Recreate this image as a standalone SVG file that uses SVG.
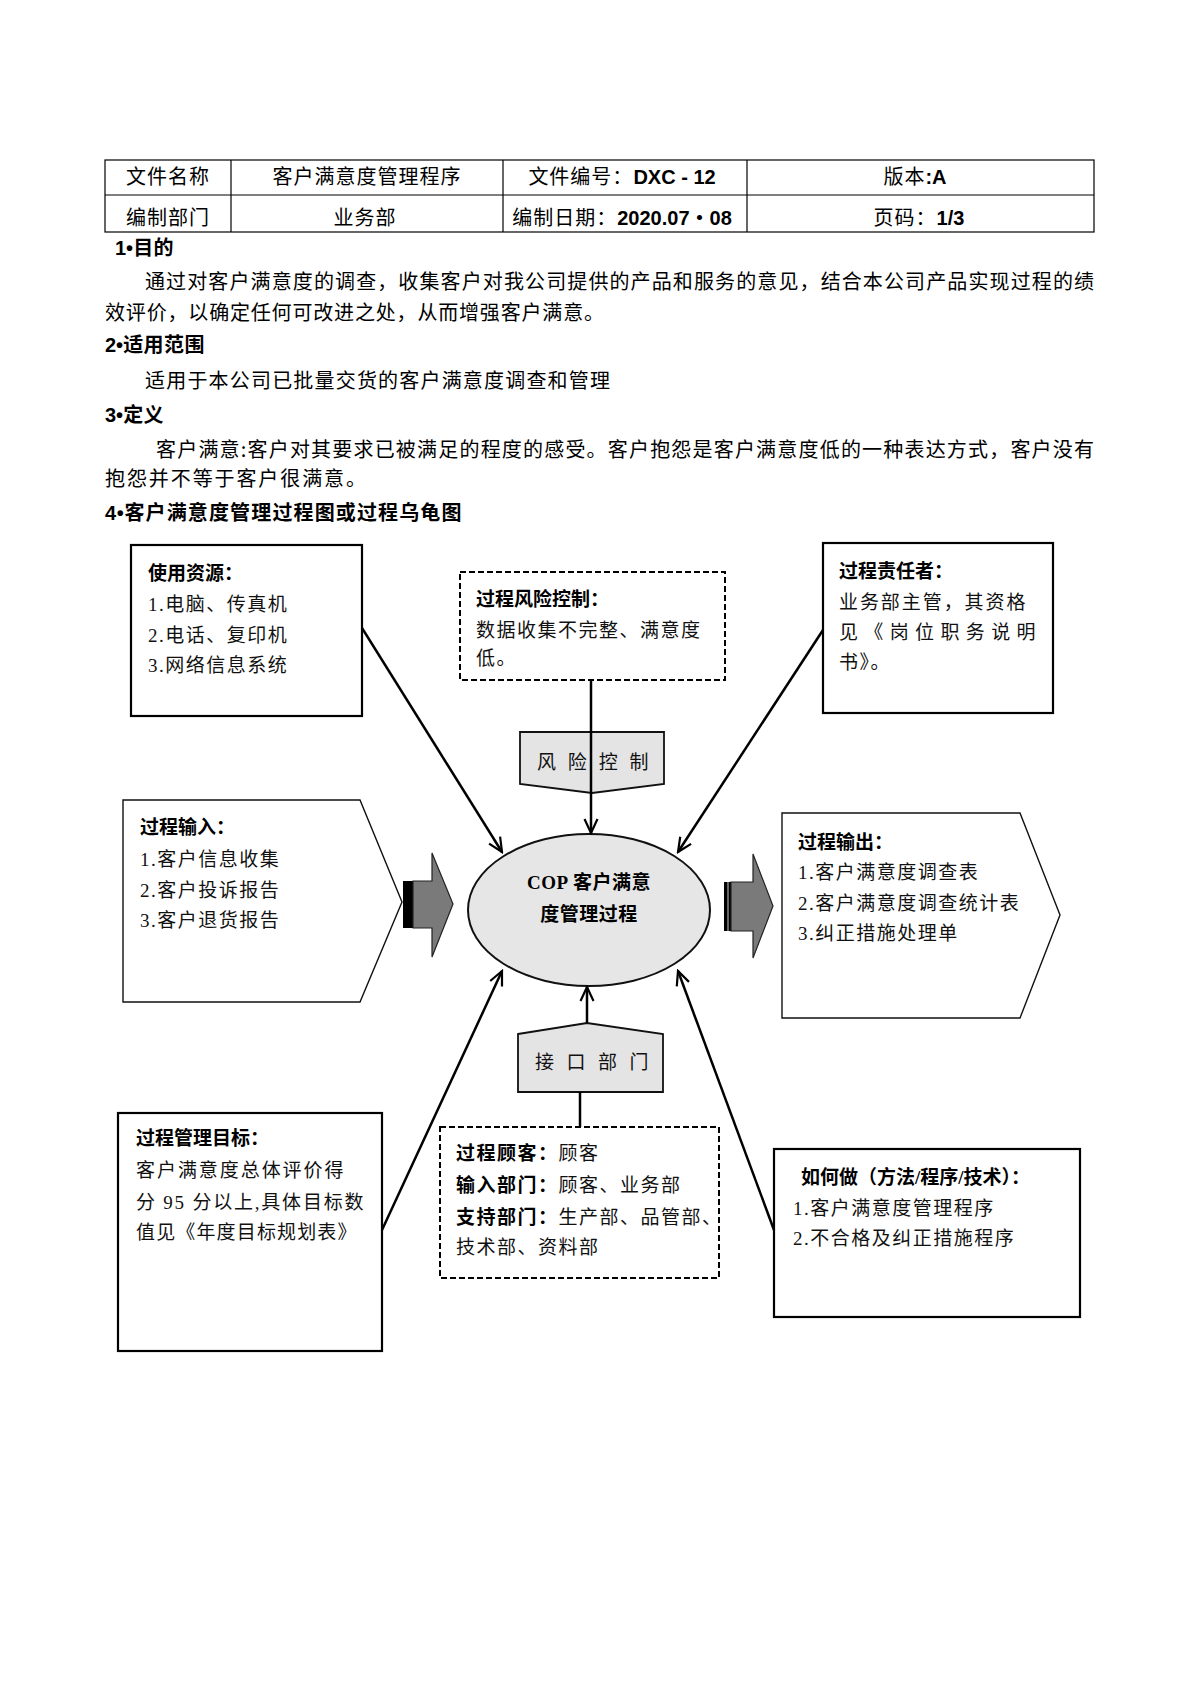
<svg xmlns="http://www.w3.org/2000/svg" width="1190" height="1683" viewBox="0 0 1190 1683">
<defs>
<style>
.h{font-family:"Noto Sans CJK SC","Liberation Sans",sans-serif;font-size:20px;letter-spacing:1px;fill:#000}
.num{font-family:"Liberation Sans","Noto Sans CJK SC",sans-serif;font-weight:bold;letter-spacing:0}
.sec{font-family:"Noto Sans CJK SC","Liberation Sans",sans-serif;font-size:20px;font-weight:bold;letter-spacing:0.5px;fill:#000}
.bul{font-family:"Liberation Sans",sans-serif;font-weight:bold;letter-spacing:0}
.body{font-family:"Noto Sans CJK SC","Liberation Sans",sans-serif;font-size:20px;letter-spacing:1px;fill:#000}
.d{font-family:"Liberation Serif","Noto Sans CJK SC",serif;font-size:19px;letter-spacing:1.5px;fill:#111}
.db{font-family:"Liberation Serif","Noto Sans CJK SC",serif;font-size:19px;font-weight:bold;fill:#000}
.box{fill:#fff;stroke:#000;stroke-width:2.2}
.dash{fill:#fff;stroke:#000;stroke-width:2;stroke-dasharray:6 3}
.pent{fill:#fff;stroke:#111;stroke-width:1.4}
.tag{fill:#e4e4e4;stroke:#111;stroke-width:1.8}
.conn{stroke:#000;stroke-width:2.5;fill:none}
.grid{stroke:#000;stroke-width:1.2;fill:none}
</style>
<marker id="ah" markerWidth="18" markerHeight="16" refX="16" refY="8" orient="auto" markerUnits="userSpaceOnUse">
<path d="M2,1.5 L16,8 L2,14.5" fill="none" stroke="#000" stroke-width="2.2"/>
</marker>
</defs>
<rect width="1190" height="1683" fill="#fff"/>

<g id="header-table">
<rect class="grid" x="105" y="160" width="989" height="72"/>
<line class="grid" x1="105" y1="195" x2="1094" y2="195"/>
<line class="grid" x1="231" y1="160" x2="231" y2="232"/>
<line class="grid" x1="503" y1="160" x2="503" y2="232"/>
<line class="grid" x1="747" y1="160" x2="747" y2="232"/>
<text class="h" x="168" y="184" text-anchor="middle">文件名称</text>
<text class="h" x="367" y="184" text-anchor="middle">客户满意度管理程序</text>
<text class="h" x="622" y="184" text-anchor="middle">文件编号：<tspan class="num">DXC - 12</tspan></text>
<text class="h" x="915" y="184" text-anchor="middle">版本<tspan class="num">:A</tspan></text>
<text class="h" x="168" y="225" text-anchor="middle">编制部门</text>
<text class="h" x="365" y="225" text-anchor="middle">业务部</text>
<text class="h" x="622" y="225" text-anchor="middle">编制日期：<tspan class="num">2020.07・08</tspan></text>
<text class="h" x="919" y="225" text-anchor="middle">页码：<tspan class="num">1/3</tspan></text>
</g>

<g id="sections">
<text class="sec" x="115" y="255"><tspan class="bul">1•</tspan>目的</text>
<text class="body" x="145" y="289" textLength="950" lengthAdjust="spacing">通过对客户满意度的调查，收集客户对我公司提供的产品和服务的意见，结合本公司产品实现过程的绩</text>
<text class="body" x="105" y="320" textLength="500" lengthAdjust="spacing">效评价，以确定任何可改进之处，从而增强客户满意。</text>
<text class="sec" x="105" y="352"><tspan class="bul">2•</tspan>适用范围</text>
<text class="body" x="145" y="388" textLength="466" lengthAdjust="spacing">适用于本公司已批量交货的客户满意度调查和管理</text>
<text class="sec" x="105" y="422"><tspan class="bul">3•</tspan>定义</text>
<text class="body" x="156" y="457" textLength="939" lengthAdjust="spacing">客户满意:客户对其要求已被满足的程度的感受。客户抱怨是客户满意度低的一种表达方式，客户没有</text>
<text class="body" x="105" y="486" textLength="262" lengthAdjust="spacing">抱怨并不等于客户很满意。</text>
<text class="sec" x="105" y="520" textLength="357" lengthAdjust="spacing"><tspan class="bul">4•</tspan>客户满意度管理过程图或过程乌龟图</text>
</g>

<g id="node-resources">
<rect class="box" x="131" y="545" width="231" height="171"/>
<text class="db" x="148" y="580">使用资源：</text>
<text class="d" x="148" y="611">1.电脑、传真机</text>
<text class="d" x="148" y="642">2.电话、复印机</text>
<text class="d" x="148" y="672">3.网络信息系统</text>
</g>

<g id="node-risk">
<rect class="dash" x="460" y="572" width="265" height="108"/>
<text class="db" x="476" y="606">过程风险控制：</text>
<text class="d" x="476" y="637">数据收集不完整、满意度</text>
<text class="d" x="476" y="665">低。</text>
</g>

<g id="node-risk-tag">
<polygon class="tag" points="520,732 664,732 664,784 592,793 520,784"/>
<text class="d" x="537" y="769" textLength="113" lengthAdjust="spacing">风险控制</text>
</g>

<g id="node-owner">
<rect class="box" x="823" y="543" width="230" height="170"/>
<text class="db" x="839" y="578">过程责任者：</text>
<text class="d" x="839" y="609" textLength="188" lengthAdjust="spacing">业务部主管，其资格</text>
<text class="d" x="839" y="639" textLength="198" lengthAdjust="spacing">见《岗位职务说明</text>
<text class="d" x="839" y="669">书》。</text>
</g>

<g id="node-input">
<polygon class="pent" points="123,800 360,800 402,902 360,1002 123,1002"/>
<text class="db" x="140" y="834">过程输入：</text>
<text class="d" x="140" y="866">1.客户信息收集</text>
<text class="d" x="140" y="897">2.客户投诉报告</text>
<text class="d" x="140" y="927">3.客户退货报告</text>
</g>

<g id="node-process">
<ellipse cx="589" cy="910" rx="121" ry="76" fill="#e6e6e6" stroke="#111" stroke-width="2"/>
<text class="db" x="589" y="889" text-anchor="middle" font-size="22" letter-spacing="0.5">COP 客户满意</text>
<text class="db" x="589" y="921" text-anchor="middle" font-size="22" letter-spacing="0.5">度管理过程</text>
</g>

<g id="node-output">
<polygon class="pent" points="782,813 1020,813 1060,915 1020,1018 782,1018"/>
<text class="db" x="798" y="849">过程输出：</text>
<text class="d" x="798" y="879">1.客户满意度调查表</text>
<text class="d" x="798" y="910">2.客户满意度调查统计表</text>
<text class="d" x="798" y="940">3.纠正措施处理单</text>
</g>

<g id="node-goal">
<rect class="box" x="118" y="1113" width="264" height="238"/>
<text class="db" x="136" y="1145">过程管理目标：</text>
<text class="d" x="136" y="1177" textLength="209" lengthAdjust="spacing">客户满意度总体评价得</text>
<text class="d" x="136" y="1209" textLength="229" lengthAdjust="spacing">分 95 分以上,具体目标数</text>
<text class="d" x="136" y="1239" textLength="222" lengthAdjust="spacing">值见《年度目标规划表》</text>
</g>

<g id="node-interface-tag">
<polygon class="tag" points="518,1034 587,1023 663,1034 663,1092 518,1092"/>
<text class="d" x="535" y="1069" textLength="115" lengthAdjust="spacing">接口部门</text>
</g>

<g id="node-interface">
<rect class="dash" x="440" y="1127" width="279" height="151"/>
<text class="d" x="456" y="1160"><tspan class="db">过程顾客：</tspan>顾客</text>
<text class="d" x="456" y="1192"><tspan class="db">输入部门：</tspan>顾客、业务部</text>
<text class="d" x="456" y="1224" letter-spacing="0.5"><tspan class="db">支持部门：</tspan>生产部、品管部、</text>
<text class="d" x="456" y="1254">技术部、资料部</text>
</g>

<g id="node-how">
<rect class="box" x="774" y="1149" width="306" height="168"/>
<text class="db" x="801" y="1184">如何做（方法/程序/技术）：</text>
<text class="d" x="793" y="1215">1.客户满意度管理程序</text>
<text class="d" x="793" y="1245">2.不合格及纠正措施程序</text>
</g>

<g id="block-arrows">
<rect x="403" y="881" width="10" height="47" fill="#000"/>
<polygon points="413,881 432,881 432,853 453,904 432,957 432,928 413,928" fill="#7a7a7a" stroke="#222" stroke-width="1.2"/>
<rect x="724" y="882" width="7" height="49" fill="#000"/>
<line x1="728" y1="882" x2="728" y2="931" stroke="#888" stroke-width="1.5"/>
<polygon points="731,882 753,882 753,854 773,906 753,958 753,931 731,931" fill="#7a7a7a" stroke="#222" stroke-width="1.2"/>
</g>

<g id="connectors">
<line class="conn" x1="362" y1="628" x2="502" y2="852" marker-end="url(#ah)"/>
<line class="conn" x1="823" y1="630" x2="678" y2="852" marker-end="url(#ah)"/>
<line class="conn" x1="591" y1="680" x2="591" y2="833" marker-end="url(#ah)"/>
<line class="conn" x1="382" y1="1230" x2="502" y2="971" marker-end="url(#ah)"/>
<line class="conn" x1="774" y1="1230" x2="678" y2="971" marker-end="url(#ah)"/>
<line class="conn" x1="580" y1="1127" x2="580" y2="1092"/>
<line class="conn" x1="587" y1="1023" x2="587" y2="987" marker-end="url(#ah)"/>
</g>
</svg>
